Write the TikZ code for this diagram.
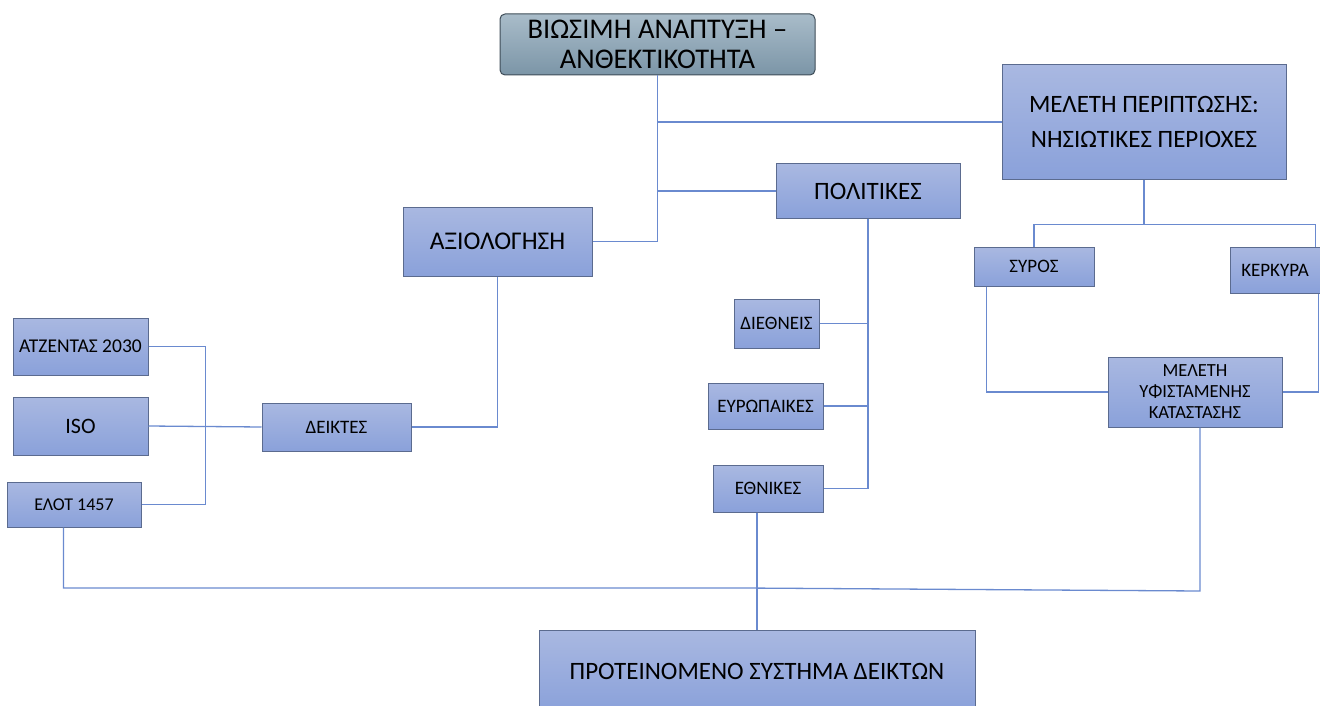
\documentclass[tikz,border=0pt]{standalone}
\usepackage{fontspec}
\setmainfont{Carlito}
\definecolor{boxtop}{HTML}{A9B8E1}
\definecolor{boxbot}{HTML}{8AA1DA}
\definecolor{boxline}{HTML}{5B6B8F}
\definecolor{toptop}{HTML}{A9BCC9}
\definecolor{topbot}{HTML}{7B95A7}
\definecolor{topline}{HTML}{3E4C57}
\definecolor{conncol}{HTML}{6A8ACF}
\tikzset{
  box/.style={draw=boxline, line width=1pt, top color=boxtop, bottom color=boxbot,
    inner sep=0pt, align=center, text=black},
  topbox/.style={draw=topline, line width=1pt, top color=toptop, bottom color=topbot,
    rounded corners=5pt, inner sep=0pt, align=center, text=black},
  conn/.style={draw=conncol, line width=1.3pt},
  small/.style={font=\fontsize{19}{22}\selectfont},
}
\begin{document}
\begin{tikzpicture}[x=1pt,y=-1pt]
\useasboundingbox (0,0) rectangle (1320,706);
\node[topbox, minimum width=315, minimum height=61, font=\fontsize{28.5}{30}\selectfont] (top) at (657.5,44.5) {ΒΙΩΣΙΜΗ ΑΝΑΠΤΥΞΗ –\\ΑΝΘΕΚΤΙΚΟΤΗΤΑ};
\node[box, minimum width=284, minimum height=114, font=\fontsize{25}{35}\selectfont] (mp) at (1144,122) {ΜΕΛΕΤΗ ΠΕΡΙΠΤΩΣΗΣ:\\ΝΗΣΙΩΤΙΚΕΣ ΠΕΡΙΟΧΕΣ};
\node[box, minimum width=184, minimum height=54, font=\fontsize{25}{28}\selectfont] (pol) at (868,191) {ΠΟΛΙΤΙΚΕΣ};
\node[box, minimum width=189, minimum height=69, font=\fontsize{25.5}{28}\selectfont] (axi) at (497.5,241.5) {ΑΞΙΟΛΟΓΗΣΗ};
\node[box, small, minimum width=120, minimum height=39] (syr) at (1034,266.5) {ΣΥΡΟΣ};
\node[box, small, minimum width=90, minimum height=46] (ker) at (1275,270) {ΚΕΡΚΥΡΑ};
\node[box, minimum width=174, minimum height=70, font=\fontsize{18.5}{21}\selectfont] (myk) at (1195,392) {ΜΕΛΕΤΗ\\ΥΦΙΣΤΑΜΕΝΗΣ\\ΚΑΤΑΣΤΑΣΗΣ};
\node[box, minimum width=135, minimum height=57, font=\fontsize{19.5}{22}\selectfont] (atz) at (80.5,346.5) {ΑΤΖΕΝΤΑΣ 2030};
\node[box, minimum width=135, minimum height=58, font=\fontsize{22}{24}\selectfont] (iso) at (80.5,426) {ISO};
\node[box, minimum width=134, minimum height=45, font=\fontsize{18}{21}\selectfont] (elot) at (74,504.5) {ΕΛΟΤ 1457};
\node[box, small, minimum width=149, minimum height=48] (dei) at (336.5,427) {ΔΕΙΚΤΕΣ};
\node[box, small, minimum width=85, minimum height=49] (die) at (776.5,323.5) {ΔΙΕΘΝΕΙΣ};
\node[box, small, minimum width=115, minimum height=46] (eur) at (765.5,406) {ΕΥΡΩΠΑΙΚΕΣ};
\node[box, small, minimum width=110, minimum height=47] (eth) at (768,488.5) {ΕΘΝΙΚΕΣ};
\node[box, minimum width=436, minimum height=82, font=\fontsize{25}{28}\selectfont] (pro) at (757,671) {ΠΡΟΤΕΙΝΟΜΕΝΟ ΣΥΣΤΗΜΑ ΔΕΙΚΤΩΝ};
% connectors
\draw[conn] (top.south) -- (top.south |- axi.east) -- (axi.east);
\draw[conn] (top.south |- mp.west) -- (mp.west);
\draw[conn] (top.south |- pol.west) -- (pol.west);
\draw[conn] (mp.south) -- ++(0,45) coordinate (mpj);
\draw[conn] (syr.north) |- (mpj) -| ([xshift=-5pt]ker.north east);
\draw[conn] (pol.south) -- (pol.south |- eth.east) -- (eth.east);
\draw[conn] (die.east) -- (pol.south |- die.east);
\draw[conn] (eur.east) -- (pol.south |- eur.east);
\draw[conn] (axi.south) |- (dei.east);
\draw[conn] (atz.east) -- ++(57,0) |- (elot.east);
\draw[conn] (iso.east) -- (dei.west);
\draw[conn] ([xshift=13pt]syr.south west) |- (myk.west);
\draw[conn] ([xshift=-2pt]ker.south east) |- (myk.east);
\coordinate (bm) at (743,588);
\coordinate (br) at (1200,591);
\draw[conn] ([xshift=57pt]elot.south west) |- (bm) -- (br) -- (br |- myk.south);
\draw[conn] (eth.south -| pro.north) -- (pro.north);
\end{tikzpicture}
\end{document}
